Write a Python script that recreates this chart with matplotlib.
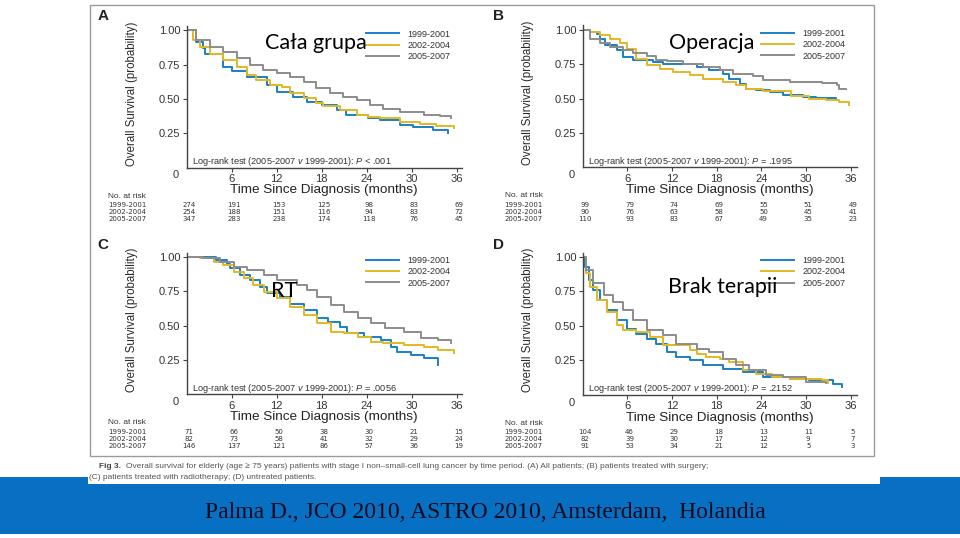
import numpy as np
import matplotlib.pyplot as plt
import matplotlib.transforms as mtrans
from matplotlib.patches import Rectangle

plt.rcParams['font.family'] = ['Liberation Sans', 'DejaVu Sans']
plt.rcParams['mathtext.fontset'] = 'custom'
plt.rcParams['mathtext.rm'] = 'Liberation Sans'
plt.rcParams['mathtext.it'] = 'Liberation Sans:italic'

W, H = 960, 538

periods = ['1999-2001', '2002-2004', '2005-2007']
colors = ['#1a80c4', '#e2b823', '#8c8c8c']
risk_times = [0, 6, 12, 18, 24, 30, 36]

# A - all patients
all_t_9901 = [0, 1.3, 2.2, 2.4, 4.9, 6, 8, 10.7, 12.1, 14.2, 16, 18, 20, 21.3, 24.2, 25.8, 28.4, 30.2, 32.9, 34.9]
all_s_9901 = [1.0, 0.916, 0.868, 0.83, 0.735, 0.70, 0.66, 0.60, 0.553, 0.516, 0.48, 0.456, 0.42, 0.383, 0.36, 0.347, 0.31, 0.298, 0.274, 0.255]
all_t_0204 = [0, 0.9, 1.8, 3.1, 4.9, 6.7, 8, 9.3, 11.1, 12.7, 13.8, 15.6, 17.3, 18.2, 20.4, 22.7, 24.2, 25.8, 28.4, 31.1, 33.3, 35.6]
all_s_0204 = [1.0, 0.93, 0.88, 0.83, 0.783, 0.735, 0.674, 0.638, 0.60, 0.589, 0.54, 0.504, 0.468, 0.448, 0.42, 0.383, 0.366, 0.359, 0.335, 0.318, 0.303, 0.286]
all_t_0507 = [0, 1.3, 3.1, 4.9, 6.7, 8.4, 10.2, 12, 13.8, 15.6, 17.3, 19.1, 20.9, 22.7, 24.4, 26.2, 28.4, 30.2, 31.6, 33.8, 35.3]
all_s_0507 = [1.0, 0.928, 0.88, 0.844, 0.795, 0.747, 0.71, 0.686, 0.662, 0.625, 0.577, 0.54, 0.516, 0.492, 0.456, 0.43, 0.407, 0.402, 0.383, 0.378, 0.359]
all_risk = [[274, 191, 153, 125, 98, 83, 69],
            [254, 188, 151, 116, 94, 83, 72],
            [347, 283, 238, 174, 118, 76, 45]]

# B - surgery
surg_t_9901 = [0, 1, 1.9, 2.3, 3, 4.6, 5.4, 6.8, 8.6, 9.5, 10.8, 13.5, 15.3, 17, 18.8, 19.7, 21.1, 22, 23.3, 25.1, 26.9, 29.6, 31.3, 34]
surg_s_9901 = [1.0, 0.985, 0.97, 0.935, 0.886, 0.85, 0.80, 0.78, 0.778, 0.766, 0.753, 0.748, 0.73, 0.705, 0.68, 0.645, 0.608, 0.572, 0.56, 0.548, 0.523, 0.51, 0.504, 0.495]
surg_t_0204 = [0, 1, 2.3, 3.7, 5, 5.9, 7.2, 8.6, 10.4, 12.1, 14.4, 16.2, 18.8, 20.6, 22, 24.2, 28, 30.4, 32.7, 34.5, 35.8]
surg_s_0204 = [1.0, 0.985, 0.96, 0.935, 0.90, 0.862, 0.79, 0.742, 0.717, 0.693, 0.668, 0.644, 0.62, 0.596, 0.572, 0.555, 0.516, 0.50, 0.487, 0.475, 0.456]
surg_t_0507 = [0, 1, 2.3, 3.7, 5.4, 6.8, 8.6, 9.9, 11.3, 13.5, 16.2, 18.4, 20.2, 22.9, 24.2, 27.8, 32.2, 34.2, 34.5, 35.4]
surg_s_0507 = [1.0, 0.935, 0.90, 0.875, 0.85, 0.83, 0.806, 0.782, 0.77, 0.753, 0.729, 0.71, 0.68, 0.661, 0.637, 0.62, 0.613, 0.596, 0.572, 0.572]
surg_risk = [[99, 79, 74, 69, 55, 51, 49],
             [90, 76, 63, 58, 50, 45, 41],
             [110, 93, 83, 67, 49, 35, 23]]

# C - radiotherapy
rt_t_9901 = [0, 3.9, 5.4, 5.8, 7.1, 8.5, 9.8, 10.7, 12.5, 13.8, 15.6, 17.4, 18.8, 20.5, 21.4, 23.7, 25.9, 27.2, 28.1, 29.9, 31.7, 33.5]
rt_s_9901 = [1.0, 0.976, 0.95, 0.915, 0.867, 0.83, 0.78, 0.734, 0.71, 0.66, 0.613, 0.553, 0.528, 0.492, 0.444, 0.42, 0.395, 0.347, 0.31, 0.287, 0.262, 0.214]
rt_t_0204 = [0, 1.8, 3.6, 4.9, 6.3, 7.6, 8.9, 10.3, 12.1, 13.8, 15.6, 17.4, 19.2, 21, 22.8, 24.6, 26.2, 29, 31.7, 33.5, 35.7]
rt_s_0204 = [1.0, 0.988, 0.964, 0.94, 0.89, 0.843, 0.795, 0.746, 0.698, 0.637, 0.577, 0.516, 0.456, 0.444, 0.42, 0.383, 0.371, 0.359, 0.347, 0.323, 0.298]
rt_t_0507 = [0, 2.2, 4.5, 6.3, 8, 10.3, 12.1, 14.7, 16, 17.4, 19.2, 21, 22.8, 24.6, 26.4, 29, 31.3, 33.5, 35.3]
rt_s_0507 = [1.0, 0.988, 0.964, 0.928, 0.903, 0.867, 0.83, 0.794, 0.758, 0.71, 0.65, 0.601, 0.553, 0.516, 0.48, 0.456, 0.407, 0.395, 0.371]
rt_risk = [[71, 66, 50, 38, 30, 21, 15],
           [82, 73, 58, 41, 32, 29, 24],
           [146, 137, 121, 86, 57, 36, 19]]

# D - untreated
unt_t_9901 = [0, 0.3, 0.8, 1.4, 2.3, 3.2, 4.6, 5.9, 7.2, 8.6, 9.9, 11.3, 12.6, 14.4, 16.2, 18.8, 21.5, 24.2, 27.8, 30.4, 33.6, 34.9]
unt_s_9901 = [1.0, 0.928, 0.83, 0.758, 0.685, 0.613, 0.54, 0.48, 0.444, 0.407, 0.371, 0.31, 0.274, 0.25, 0.214, 0.19, 0.165, 0.129, 0.117, 0.105, 0.081, 0.056]
unt_t_0204 = [0, 0.5, 1, 1.9, 3.2, 4.6, 5.4, 7.2, 9, 10.8, 14.4, 15.3, 16.6, 18.4, 19.7, 21.5, 23.3, 25.5, 27.8, 32.2, 32.9]
unt_s_0204 = [1.0, 0.88, 0.782, 0.685, 0.601, 0.504, 0.468, 0.456, 0.42, 0.359, 0.323, 0.298, 0.274, 0.262, 0.238, 0.177, 0.153, 0.129, 0.117, 0.105, 0.085]
unt_t_0507 = [0, 0.5, 1.4, 2.8, 4.1, 5.4, 6.8, 8.6, 10.8, 12.6, 15.3, 17, 18.8, 20.6, 22.4, 24.6, 26.9, 30, 32.7]
unt_s_0507 = [1.0, 0.904, 0.807, 0.722, 0.673, 0.613, 0.54, 0.468, 0.432, 0.371, 0.335, 0.311, 0.262, 0.214, 0.177, 0.141, 0.129, 0.093, 0.085]
unt_risk = [[104, 46, 29, 18, 13, 11, 5],
            [82, 39, 30, 17, 12, 9, 7],
            [91, 53, 34, 21, 12, 5, 3]]

panel_letters = ['A', 'B', 'C', 'D']
p_values = ['< .001', '= .1995', '= .0056', '= .2152']
overlay_labels = ['Cała grupa', 'Operacja', 'RT', 'Brak terapii']

curves = [
    [(all_t_9901, all_s_9901), (all_t_0204, all_s_0204), (all_t_0507, all_s_0507)],
    [(surg_t_9901, surg_s_9901), (surg_t_0204, surg_s_0204), (surg_t_0507, surg_s_0507)],
    [(rt_t_9901, rt_s_9901), (rt_t_0204, rt_s_0204), (rt_t_0507, rt_s_0507)],
    [(unt_t_9901, unt_s_9901), (unt_t_0204, unt_s_0204), (unt_t_0507, unt_s_0507)],
]
risks = [all_risk, surg_risk, rt_risk, unt_risk]


def frac(x0, y0, x1, y1):
    # pixel box with origin at top-left -> figure fraction rect
    return [x0 / W, 1 - y1 / H, (x1 - x0) / W, (y1 - y0) / H]


fig = plt.figure(figsize=(W / 100, H / 100), dpi=100)

# slide background: blue band, white journal area, grey frame
bg = fig.add_axes([0, 0, 1, 1])
bg.set_xlim(0, W)
bg.set_ylim(H, 0)
bg.axis('off')
bg.set_zorder(-1)
bg.add_patch(Rectangle((0, 477), W, 57, color='#0870c2', lw=0))
bg.add_patch(Rectangle((88, 0), 792, 484, color='white', lw=0))
bg.add_patch(Rectangle((90, 5), 784, 451, fill=False, ec='#9a9a9a', lw=1.0))

bg.text(99, 467, 'Fig 3.', fontsize=6, fontweight='bold', color='#444', va='center')
bg.text(126, 467, 'Overall survival for elderly (age \u2265 75 years) patients with stage I non\u2013small-cell '
        'lung cancer by time period. (A) All patients; (B) patients treated with surgery;',
        fontsize=6, color='#555', va='center')
bg.text(89, 477.5, '(C) patients treated with radiotherapy; (D) untreated patients.',
        fontsize=6, color='#555', va='center')
bg.text(485, 513, 'Palma D., JCO 2010, ASTRO 2010, Amsterdam,  Holandia',
        fontsize=17, family=['Liberation Serif'], color='#0a0a1e', ha='center', va='center')

boxes = [(186.7, 26, 461.7, 167.7), (582.7, 25.5, 856.6, 167.5),
         (186.7, 252.6, 461.7, 394.4), (582.7, 252.6, 856.6, 394.8)]
xmaxes = [36.67, 36.8, 36.67, 36.8]
letter_pos = [(103, 16), (499, 16), (103, 245), (499, 245)]
overlay_pos = [(316, 43), (712, 43), (284, 291), (723, 287)]

for i in range(4):
    ax = fig.add_axes(frac(*boxes[i]))
    ax.set_facecolor('none')
    for (t, s), c, lab in zip(curves[i], colors, periods):
        ax.step(t, s, where='post', color=c, lw=1.4, label=lab)
    ax.set_xlim(0, xmaxes[i])
    ax.set_ylim(0, 1.03)
    ax.set_xticks(range(6, 37, 6))
    ax.set_yticks([0.25, 0.5, 0.75, 1.0])
    ax.set_yticklabels(['0.25', '0.50', '0.75', '1.00'])
    for side in ['top', 'right']:
        ax.spines[side].set_visible(False)
    for side in ['left', 'bottom']:
        ax.spines[side].set_color('#444')
        ax.spines[side].set_linewidth(1.0)
    ax.tick_params(direction='out', length=3, width=0.8, colors='#444',
                   labelcolor='#333', labelsize=8, pad=1.5)
    ax.text(-0.039, -0.055, '0', transform=ax.transAxes, fontsize=8, color='#333',
            ha='center', va='center')
    ax.text(0.5, -0.16, 'Time Since Diagnosis (months)', transform=ax.transAxes,
            fontsize=9.7, color='#222', ha='center', va='center')
    ax.text(-0.2, 0.524, 'Overall Survival (probability)', transform=ax.transAxes,
            rotation=90, fontsize=8.3, color='#2a2a2a', ha='center', va='center')
    ax.text(0.018, 0.045, 'Log-rank test (2005-2007 $v$ 1999-2001): $P$ ' + p_values[i],
            transform=ax.transAxes, fontsize=6.6, color='#333', va='center')
    ax.legend(loc='upper right', bbox_to_anchor=(0.96, 0.975), fontsize=6.5,
              frameon=False, handlelength=3.6, handletextpad=1.0,
              labelspacing=0.25, borderpad=0, borderaxespad=0, labelcolor='#333')

    # number at risk table
    tr = mtrans.blended_transform_factory(ax.transData, ax.transAxes)
    ax.text(-0.285, -0.2, 'No. at risk', transform=ax.transAxes, fontsize=6,
            color='#333', va='center')
    row_y = [-0.262, -0.312, -0.362]
    for r in range(3):
        ax.text(-0.285, row_y[r], periods[r], transform=ax.transAxes, fontsize=5,
                family=['DejaVu Sans'], color='#333', va='center')
        for tt, n in zip(risk_times, risks[i][r]):
            ax.text(tt + 0.3, row_y[r], str(n), transform=tr, fontsize=5,
                    family=['DejaVu Sans'], color='#333', ha='center', va='center',
                    clip_on=False)

    lx, ly = letter_pos[i]
    bg.text(lx, ly, panel_letters[i], fontsize=11, fontweight='bold', color='#222',
            ha='center', va='center')
    ox, oy = overlay_pos[i]
    fig.text(ox / W, 1 - oy / H, overlay_labels[i], fontsize=15.5, family=['Lato', 'DejaVu Sans'],
             color='black', ha='center', va='center', zorder=10)

fig.savefig('out.png', dpi=100)
